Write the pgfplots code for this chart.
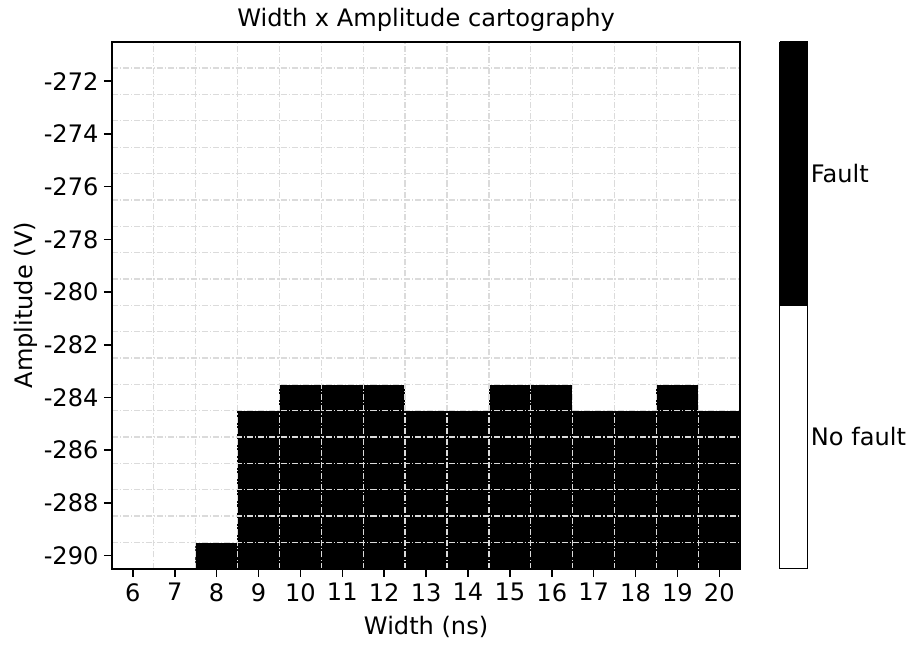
\documentclass[border=0pt]{standalone}
\usepackage{fontspec}
\setmainfont{DejaVu Sans}
\usepackage{pgfplots}
\pgfplotsset{compat=1.18}
\begin{document}
\fontsize{12}{14.4}\selectfont
\begin{tikzpicture}
\begin{axis}[
  width=313pt, height=262.5pt, scale only axis,
  set layers=axis on top,
  xmin=5.5, xmax=20.5, ymin=-290.5, ymax=-270.5,
  xtick={6,...,20}, ytick={-290,-288,...,-272},
  minor xtick={6.5,7.5,...,19.5}, minor ytick={-289.5,-288.5,...,-271.5},
  xtick pos=left, ytick pos=left,
  grid=minor,
  minor grid style={black!14, line width=0.65pt, dash pattern=on 3pt off 1pt on 0.6pt off 1pt},
  minor tick length=0pt,
  tick align=inside, major tick length=-4pt,
  major tick style={draw=black, line width=0.8pt},
  axis line style={line width=0.8pt},
  title={Width x Amplitude cartography},
  title style={yshift=-5pt},
  xlabel={Width (ns)}, ylabel={Amplitude (V)},
  xticklabel style={yshift=-3pt}, yticklabel style={xshift=-2.5pt},
  xlabel shift=-1pt, ylabel shift=-8pt,
  ylabel style={inner ysep=7pt},
  /pgf/number format/assume math mode=true,
  colormap={fault}{color=(white) color=(black)},
  colormap access=piecewise constant,
  point meta min=0, point meta max=1,
  colorbar,
  colorbar shift/.style={xshift=18.5pt},
  colorbar style={width=13.8pt, ytick={0.25,0.75}, yticklabels={No fault, Fault},
    major tick length=0pt, axis line style={line width=0.6pt},
    yticklabel style={inner xsep=1.5pt, xshift=0pt}},
]
\addplot[matrix plot*, mesh/cols=15, point meta=explicit] table[row sep=\\, meta=z] {
x y z\\
6 -290 0\\ 7 -290 0\\ 8 -290 1\\ 9 -290 1\\ 10 -290 1\\ 11 -290 1\\ 12 -290 1\\ 13 -290 1\\ 14 -290 1\\ 15 -290 1\\ 16 -290 1\\ 17 -290 1\\ 18 -290 1\\ 19 -290 1\\ 20 -290 1\\
6 -289 0\\ 7 -289 0\\ 8 -289 0\\ 9 -289 1\\ 10 -289 1\\ 11 -289 1\\ 12 -289 1\\ 13 -289 1\\ 14 -289 1\\ 15 -289 1\\ 16 -289 1\\ 17 -289 1\\ 18 -289 1\\ 19 -289 1\\ 20 -289 1\\
6 -288 0\\ 7 -288 0\\ 8 -288 0\\ 9 -288 1\\ 10 -288 1\\ 11 -288 1\\ 12 -288 1\\ 13 -288 1\\ 14 -288 1\\ 15 -288 1\\ 16 -288 1\\ 17 -288 1\\ 18 -288 1\\ 19 -288 1\\ 20 -288 1\\
6 -287 0\\ 7 -287 0\\ 8 -287 0\\ 9 -287 1\\ 10 -287 1\\ 11 -287 1\\ 12 -287 1\\ 13 -287 1\\ 14 -287 1\\ 15 -287 1\\ 16 -287 1\\ 17 -287 1\\ 18 -287 1\\ 19 -287 1\\ 20 -287 1\\
6 -286 0\\ 7 -286 0\\ 8 -286 0\\ 9 -286 1\\ 10 -286 1\\ 11 -286 1\\ 12 -286 1\\ 13 -286 1\\ 14 -286 1\\ 15 -286 1\\ 16 -286 1\\ 17 -286 1\\ 18 -286 1\\ 19 -286 1\\ 20 -286 1\\
6 -285 0\\ 7 -285 0\\ 8 -285 0\\ 9 -285 1\\ 10 -285 1\\ 11 -285 1\\ 12 -285 1\\ 13 -285 1\\ 14 -285 1\\ 15 -285 1\\ 16 -285 1\\ 17 -285 1\\ 18 -285 1\\ 19 -285 1\\ 20 -285 1\\
6 -284 0\\ 7 -284 0\\ 8 -284 0\\ 9 -284 0\\ 10 -284 1\\ 11 -284 1\\ 12 -284 1\\ 13 -284 0\\ 14 -284 0\\ 15 -284 1\\ 16 -284 1\\ 17 -284 0\\ 18 -284 0\\ 19 -284 1\\ 20 -284 0\\
6 -283 0\\ 7 -283 0\\ 8 -283 0\\ 9 -283 0\\ 10 -283 0\\ 11 -283 0\\ 12 -283 0\\ 13 -283 0\\ 14 -283 0\\ 15 -283 0\\ 16 -283 0\\ 17 -283 0\\ 18 -283 0\\ 19 -283 0\\ 20 -283 0\\
6 -282 0\\ 7 -282 0\\ 8 -282 0\\ 9 -282 0\\ 10 -282 0\\ 11 -282 0\\ 12 -282 0\\ 13 -282 0\\ 14 -282 0\\ 15 -282 0\\ 16 -282 0\\ 17 -282 0\\ 18 -282 0\\ 19 -282 0\\ 20 -282 0\\
6 -281 0\\ 7 -281 0\\ 8 -281 0\\ 9 -281 0\\ 10 -281 0\\ 11 -281 0\\ 12 -281 0\\ 13 -281 0\\ 14 -281 0\\ 15 -281 0\\ 16 -281 0\\ 17 -281 0\\ 18 -281 0\\ 19 -281 0\\ 20 -281 0\\
6 -280 0\\ 7 -280 0\\ 8 -280 0\\ 9 -280 0\\ 10 -280 0\\ 11 -280 0\\ 12 -280 0\\ 13 -280 0\\ 14 -280 0\\ 15 -280 0\\ 16 -280 0\\ 17 -280 0\\ 18 -280 0\\ 19 -280 0\\ 20 -280 0\\
6 -279 0\\ 7 -279 0\\ 8 -279 0\\ 9 -279 0\\ 10 -279 0\\ 11 -279 0\\ 12 -279 0\\ 13 -279 0\\ 14 -279 0\\ 15 -279 0\\ 16 -279 0\\ 17 -279 0\\ 18 -279 0\\ 19 -279 0\\ 20 -279 0\\
6 -278 0\\ 7 -278 0\\ 8 -278 0\\ 9 -278 0\\ 10 -278 0\\ 11 -278 0\\ 12 -278 0\\ 13 -278 0\\ 14 -278 0\\ 15 -278 0\\ 16 -278 0\\ 17 -278 0\\ 18 -278 0\\ 19 -278 0\\ 20 -278 0\\
6 -277 0\\ 7 -277 0\\ 8 -277 0\\ 9 -277 0\\ 10 -277 0\\ 11 -277 0\\ 12 -277 0\\ 13 -277 0\\ 14 -277 0\\ 15 -277 0\\ 16 -277 0\\ 17 -277 0\\ 18 -277 0\\ 19 -277 0\\ 20 -277 0\\
6 -276 0\\ 7 -276 0\\ 8 -276 0\\ 9 -276 0\\ 10 -276 0\\ 11 -276 0\\ 12 -276 0\\ 13 -276 0\\ 14 -276 0\\ 15 -276 0\\ 16 -276 0\\ 17 -276 0\\ 18 -276 0\\ 19 -276 0\\ 20 -276 0\\
6 -275 0\\ 7 -275 0\\ 8 -275 0\\ 9 -275 0\\ 10 -275 0\\ 11 -275 0\\ 12 -275 0\\ 13 -275 0\\ 14 -275 0\\ 15 -275 0\\ 16 -275 0\\ 17 -275 0\\ 18 -275 0\\ 19 -275 0\\ 20 -275 0\\
6 -274 0\\ 7 -274 0\\ 8 -274 0\\ 9 -274 0\\ 10 -274 0\\ 11 -274 0\\ 12 -274 0\\ 13 -274 0\\ 14 -274 0\\ 15 -274 0\\ 16 -274 0\\ 17 -274 0\\ 18 -274 0\\ 19 -274 0\\ 20 -274 0\\
6 -273 0\\ 7 -273 0\\ 8 -273 0\\ 9 -273 0\\ 10 -273 0\\ 11 -273 0\\ 12 -273 0\\ 13 -273 0\\ 14 -273 0\\ 15 -273 0\\ 16 -273 0\\ 17 -273 0\\ 18 -273 0\\ 19 -273 0\\ 20 -273 0\\
6 -272 0\\ 7 -272 0\\ 8 -272 0\\ 9 -272 0\\ 10 -272 0\\ 11 -272 0\\ 12 -272 0\\ 13 -272 0\\ 14 -272 0\\ 15 -272 0\\ 16 -272 0\\ 17 -272 0\\ 18 -272 0\\ 19 -272 0\\ 20 -272 0\\
6 -271 0\\ 7 -271 0\\ 8 -271 0\\ 9 -271 0\\ 10 -271 0\\ 11 -271 0\\ 12 -271 0\\ 13 -271 0\\ 14 -271 0\\ 15 -271 0\\ 16 -271 0\\ 17 -271 0\\ 18 -271 0\\ 19 -271 0\\ 20 -271 0\\
};
\end{axis}
\begin{axis}[
  width=313pt, height=262.5pt, scale only axis,
  xmin=5.5, xmax=20.5, ymin=-290.5, ymax=-270.5,
  xtick={6,...,20}, ytick={-290,-288,...,-272},
  xticklabels={}, yticklabels={},
  xtick pos=left, ytick pos=left,
  tick align=outside, major tick length=4pt,
  major tick style={black, line width=0.8pt},
  axis line style={draw=none},
]
\end{axis}
\end{tikzpicture}
\end{document}
